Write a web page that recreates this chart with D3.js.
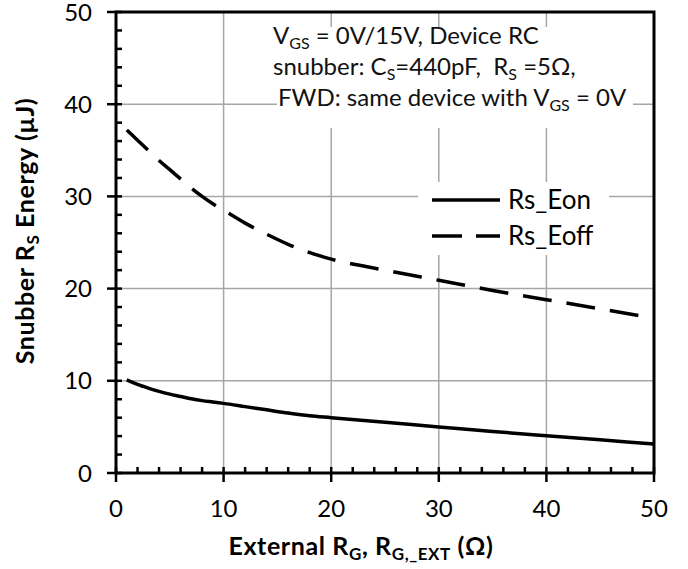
<!DOCTYPE html>
<html>
<head>
<meta charset="utf-8">
<script src="https://cdn.jsdelivr.net/npm/d3@7"></script>
<style>
  body { margin: 0; background: #fff; }
  svg { font-family: Lato, "Open Sans", sans-serif; }
</style>
</head>
<body>
<div id="chart"></div>
<script>
// external gate resistance (ohm)
const rgValues = [1, 2, 3, 4, 5, 6, 7, 8, 9, 10, 12, 14, 16, 18, 20, 25, 30, 35, 40, 45, 50];
// snubber Rs energy (uJ)
const eoffValues = [37.2, 36.1, 35.0, 33.9, 32.9, 31.9, 30.9, 30.0, 29.2, 28.5, 27.1, 25.9, 24.8, 23.9, 23.2, 22.0, 20.9, 19.8, 18.8, 17.8, 16.8];
const eonValues = [10.1, 9.6, 9.2, 8.85, 8.55, 8.3, 8.05, 7.85, 7.7, 7.55, 7.2, 6.85, 6.5, 6.2, 6.0, 5.5, 5.0, 4.5, 4.05, 3.6, 3.15];
const xTicks = [0, 10, 20, 30, 40, 50];
const yTicks = [0, 10, 20, 30, 40, 50];
const seriesNames = ["Rs_Eon", "Rs_Eoff"];

var svgWidth = 688, svgHeight = 569;
var margin = { top: 12, right: 34, bottom: 96, left: 116 };
var width = svgWidth - margin.left - margin.right;
var height = svgHeight - margin.top - margin.bottom;

var svg = d3.select("#chart").append("svg")
    .attr("width", svgWidth)
    .attr("height", svgHeight);
var g = svg.append("g")
    .attr("transform", `translate(${margin.left}, ${margin.top})`);

var x = d3.scaleLinear().domain([0, 50]).range([0, width]);
var y = d3.scaleLinear().domain([0, 50]).range([height, 0]);

// gridlines
g.selectAll(".gx").data(xTicks.slice(1, -1)).enter().append("line")
    .attr("x1", d => x(d)).attr("x2", d => x(d))
    .attr("y1", 0).attr("y2", height)
    .attr("stroke", "#a6a6a6").attr("stroke-width", 1.5);
g.selectAll(".gy").data(yTicks.slice(1, -1)).enter().append("line")
    .attr("x1", 0).attr("x2", width)
    .attr("y1", d => y(d)).attr("y2", d => y(d))
    .attr("stroke", "#a6a6a6").attr("stroke-width", 1.5);

// minor ticks every 2
var minor = d3.range(0, 51, 2).filter(d => d % 10 !== 0);
g.selectAll(".mx").data(minor).enter().append("line")
    .attr("x1", d => x(d)).attr("x2", d => x(d))
    .attr("y1", height).attr("y2", height - 6)
    .attr("stroke", "#000").attr("stroke-width", 2.5);
g.selectAll(".my").data(minor).enter().append("line")
    .attr("x1", 0).attr("x2", 6)
    .attr("y1", d => y(d)).attr("y2", d => y(d))
    .attr("stroke", "#000").attr("stroke-width", 2.5);

// major ticks
g.selectAll(".tx").data(xTicks).enter().append("line")
    .attr("x1", d => x(d)).attr("x2", d => x(d))
    .attr("y1", height - 6).attr("y2", height + 9)
    .attr("stroke", "#000").attr("stroke-width", 2.5);
g.selectAll(".ty").data(yTicks).enter().append("line")
    .attr("x1", -9).attr("x2", 6)
    .attr("y1", d => y(d)).attr("y2", d => y(d))
    .attr("stroke", "#000").attr("stroke-width", 2.5);

// frame
g.append("rect")
    .attr("x", 0).attr("y", 0)
    .attr("width", width).attr("height", height)
    .attr("fill", "none").attr("stroke", "#000").attr("stroke-width", 3);

// tick labels
g.selectAll(".lx").data(xTicks).enter().append("text")
    .attr("x", d => x(d)).attr("y", height + 44)
    .attr("text-anchor", "middle")
    .style("font-size", "24px")
    .text(d => d);
g.selectAll(".ly").data(yTicks).enter().append("text")
    .attr("x", -24).attr("y", d => y(d)).attr("dy", "0.36em")
    .attr("text-anchor", "end")
    .style("font-size", "24px")
    .text(d => d);

// white boxes for annotation and legend
g.append("rect").attr("x", 161).attr("y", 15).attr("width", 356).attr("height", 101).attr("fill", "#fff");
g.append("rect").attr("x", 302).attr("y", 170).attr("width", 191).attr("height", 73).attr("fill", "#fff");

// curves
var line = d3.line()
    .x(d => x(d[0]))
    .y(d => y(d[1]))
    .curve(d3.curveMonotoneX);

g.append("path")
    .datum(rgValues.map((r, i) => [r, eonValues[i]]))
    .attr("d", line)
    .attr("fill", "none").attr("stroke", "#000").attr("stroke-width", 3.5);
g.append("path")
    .datum(rgValues.map((r, i) => [r, eoffValues[i]]))
    .attr("d", line)
    .attr("fill", "none").attr("stroke", "#000").attr("stroke-width", 3.5)
    .attr("stroke-dasharray", "29,15");

// annotation
var note = g.append("text").style("font-size", "24px").style("white-space", "pre").attr("fill", "#111");
var l1 = note.append("tspan").attr("x", 157).attr("y", 32);
l1.append("tspan").text("V");
l1.append("tspan").attr("dy", 5).style("font-size", "16px").text("GS");
l1.append("tspan").attr("dy", -5).text(" = 0V/15V, Device RC");
var l2 = note.append("tspan").attr("x", 157).attr("y", 63);
l2.append("tspan").text("snubber: C");
l2.append("tspan").attr("dy", 5).style("font-size", "16px").text("S");
l2.append("tspan").attr("dy", -5).text("=440pF,  R");
l2.append("tspan").attr("dy", 5).style("font-size", "16px").text("S");
l2.append("tspan").attr("dy", -5).text(" =5\u03A9,");
var l3 = note.append("tspan").attr("x", 162).attr("y", 94);
l3.append("tspan").text("FWD: same device with V");
l3.append("tspan").attr("dy", 5).style("font-size", "16px").text("GS");
l3.append("tspan").attr("dy", -5).text(" = 0V");

// legend
var legend = g.selectAll(".legend").data(seriesNames).enter().append("g")
    .attr("transform", (d, i) => `translate(316, ${188 + i * 36})`);
legend.append("line")
    .attr("x1", 0).attr("x2", 68)
    .attr("stroke", "#000").attr("stroke-width", 3.5)
    .attr("stroke-dasharray", (d, i) => i === 0 ? null : "30,14");
legend.append("text")
    .attr("x", 76).attr("dy", "0.35em")
    .style("font-size", "26px")
    .text(d => d);

// axis titles
var xt = svg.append("text")
    .attr("x", 361).attr("y", 555)
    .attr("text-anchor", "middle")
    .style("font-size", "25px").style("font-weight", "bold")
    .style("letter-spacing", "0.6px");
xt.append("tspan").text("External R");
xt.append("tspan").attr("dy", 5).style("font-size", "17px").text("G");
xt.append("tspan").attr("dy", -5).text(", R");
xt.append("tspan").attr("dy", 5).style("font-size", "17px").text("G,_EXT");
xt.append("tspan").attr("dy", -5).text(" (\u03A9)");

var yt = svg.append("text")
    .attr("transform", "translate(34, 231) rotate(-90)")
    .attr("text-anchor", "middle")
    .style("font-size", "25px").style("font-weight", "bold")
    .style("letter-spacing", "0.6px");
yt.append("tspan").text("Snubber R");
yt.append("tspan").attr("dy", 5).style("font-size", "17px").text("S");
yt.append("tspan").attr("dy", -5).text(" Energy (\u00B5J)");
</script>
</body>
</html>
